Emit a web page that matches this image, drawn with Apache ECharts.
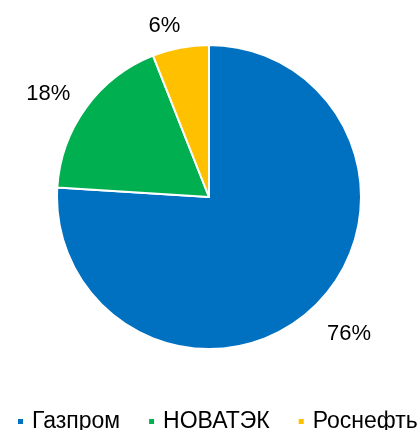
<!DOCTYPE html>
<html>
<head>
<meta charset="utf-8">
<script src="https://cdn.jsdelivr.net/npm/echarts@6/dist/echarts.min.js"></script>
<style>
  html, body { margin: 0; padding: 0; background: #fff; }
  #chart-box { width: 419px; height: 430px; }
</style>
</head>
<body>
<div id="chart-box"></div>
<script>
const companies = ["Газпром", "НОВАТЭК", "Роснефть"];
const shares = [76, 18, 6];
const colors = ["#0070C0", "#00B050", "#FFC000"];

// small nudges so the outside labels sit where the original puts them
const labelNudge = [[-6, 10], [7, -1], [9, 0]];

const chart = echarts.init(document.getElementById("chart-box"));
const option = {
  animation: false,
  color: colors,
  legend: {
    left: 11,
    top: 405,
    width: 600,
    icon: "rect",
    itemWidth: 7,
    itemHeight: 7,
    itemGap: 27,
    textStyle: {
      fontFamily: "Liberation Sans, Arial",
      fontSize: 23,
      color: "#000",
      padding: [0, 0, 0, 3],
    },
    data: companies,
  },
  series: [
    {
      type: "pie",
      center: [209, 197],
      radius: [0, 152],
      startAngle: 90,
      clockwise: true,
      avoidLabelOverlap: false,
      itemStyle: {
        borderColor: "#fff",
        borderWidth: 2,
      },
      label: {
        show: true,
        position: "outside",
        formatter: "{c}%",
        fontFamily: "Liberation Sans, Arial",
        fontSize: 22,
        color: "#000",
      },
      labelLine: {
        show: false,
        length: 22,
        length2: 0,
      },
      labelLayout: function (params) {
        const n = labelNudge[params.dataIndex];
        return { dx: n[0], dy: n[1] };
      },
      emphasis: { disabled: true },
      data: companies.map((name, i) => ({ name: name, value: shares[i] })),
    },
  ],
};
chart.setOption(option);
</script>
</body>
</html>
